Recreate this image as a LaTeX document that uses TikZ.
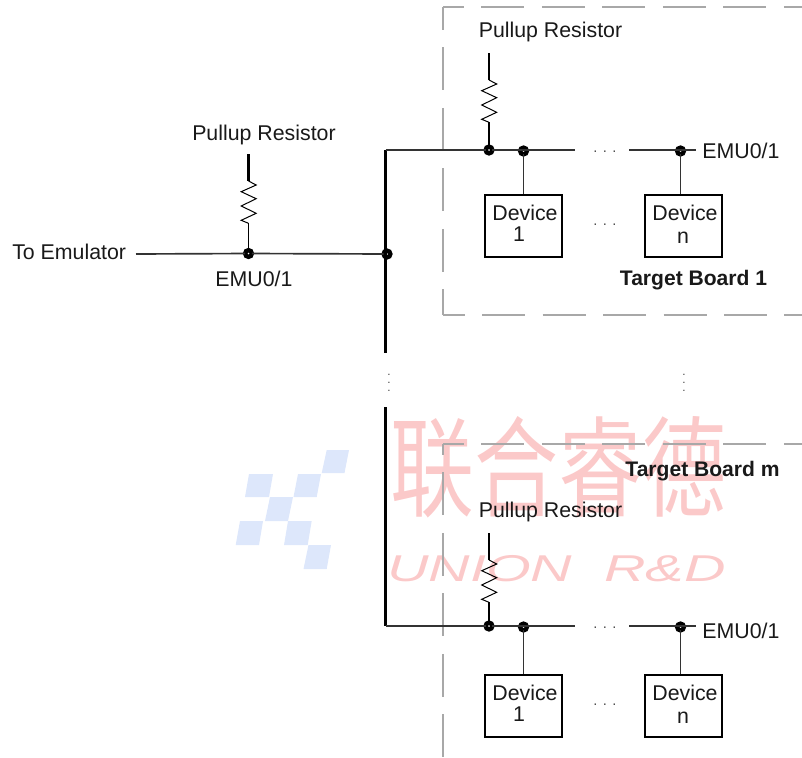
\documentclass[tikz,border=0pt]{standalone}
\usepackage{fontspec}
\setmainfont{Liberation Sans}
\newfontfamily\cjkwm{Noto Sans CJK SC}
\definecolor{wmred}{HTML}{FBC9C9}
\definecolor{wmblue}{HTML}{DDE7FB}
\definecolor{wire}{HTML}{333333}
\definecolor{boardline}{HTML}{A8A8A8}
\tikzset{
  lbl/.style={anchor=base,inner sep=0pt,font=\fontsize{16pt}{18pt}\selectfont,text=black!90},
  boldlbl/.style={lbl,font=\fontsize{15.8pt}{18pt}\selectfont\bfseries},
  dotsh/.style={anchor=center,inner sep=0pt,font=\fontsize{11pt}{12pt}\selectfont,text=black!70},
  dotsv/.style={dotsh,rotate=90,font=\fontsize{9pt}{12pt}\selectfont},
  junction/.style={circle,draw=black,fill=white,line width=3.3pt,minimum size=5pt,inner sep=0pt,outer sep=0pt},
  wireline/.style={draw=wire,line width=1.25pt},
  busline/.style={draw=black,line width=1.9pt},
  stem/.style={draw=black,line width=1.6pt},
  zig/.style={draw=black,line width=0.75pt,line join=miter},
  devbox/.style={draw=black,line width=1.5pt,fill=white,anchor=north west,inner sep=0pt,minimum width=57.7pt,minimum height=46.6pt},
  boardedge/.style={draw=boardline,line width=1.9pt,dash pattern=on 32.25pt off 13.1pt},
  wmcell/.style={fill=wmblue,draw=none},
}
\newcommand{\resistorat}[2]{%
  % #1 prefix; #2 rail junction name; local frame: stem at x=489, top y=53
  \coordinate (#1top) at (489,53);
  \coordinate (#1a) at (489,80);
  \coordinate (#1b) at (489,122.3);
  \draw[stem] (#1top) -- (#1a);
  \draw[zig] (#1a) -- (496.7,84) -- (481.7,90.7) -- (496.7,97.7) -- (481.7,105) -- (496.7,112.3) -- (481.7,119.3) -- (#1b);
  \draw[zig,line width=1pt] (#1b) -- (#2);
}
\newcommand{\targetboard}[2]{%
  % #1 prefix; #2 rail y in board frame
  \node[junction] (#1jr) at (489,#2) {};
  \node[junction] (#1ja) at (523.5,#2+1) {};
  \node[junction] (#1jb) at (680.5,#2+1) {};
  \coordinate (#1railgap) at (575,#2);
  \coordinate (#1railback) at (629,#2);
  \coordinate (#1railend) at (696,#2);
  \node[lbl] (#1pull) at (550.5,37) {Pullup Resistor};
  \node[lbl] (#1emu) at (741,158) {EMU0/1};
  \node[devbox] (#1d1) at (484,194) {};
  \node[devbox] (#1dn) at (644,194) {};
  \node[lbl] (#1d1a) at (525,220) {Device};
  \node[lbl] (#1d1b) at (519,241) {1};
  \node[lbl] (#1dna) at (685,220) {Device};
  \node[lbl] (#1dnb) at (683,243) {n};
  \node[dotsh] (#1dots1) at (605,#2+2) {. . .};
  \node[dotsh] (#1dots2) at (605,225) {. . .};
  \draw[wireline] (#1jr) -- (#1railgap);
  \draw[wireline] (#1railback) -- (#1railend);
  \draw[wireline] (#1ja) -- (#1ja |- #1d1.north);
  \draw[wireline] (#1jb) -- (#1jb |- #1dn.north);
  \resistorat{#1r}{#1jr}
}
\begin{document}
\begin{tikzpicture}[x=0.75pt,y=-0.75pt]
\useasboundingbox (0,0) rectangle (802,757);
% watermark
\fill[wmcell] (326.7,450) -- (349,450) -- (344.5,473) -- (321.7,473) -- cycle;
\fill[wmcell] (249,474) -- (273,474) -- (269,497) -- (245,497) -- cycle;
\fill[wmcell] (298,474) -- (321,474) -- (316.7,497) -- (293.5,497) -- cycle;
\fill[wmcell] (270,497) -- (293,497) -- (288,521) -- (265,521) -- cycle;
\fill[wmcell] (240,521) -- (263,521) -- (259,545) -- (235.7,545) -- cycle;
\fill[wmcell] (288,521) -- (311.7,521) -- (307.7,545) -- (284,545) -- cycle;
\fill[wmcell] (308.5,545) -- (331,545) -- (326.7,569) -- (303.5,569) -- cycle;
\node[inner sep=0pt,text=wmred,yscale=1.3] (wmcn) at (558,467) {\fontsize{63pt}{70pt}\selectfont\cjkwm 联合睿德};
\node[inner sep=0pt,text=wmred,xscale=1.54,anchor=center] (wmen) at (556.5,569) {\fontsize{28pt}{30pt}\selectfont\itshape UNION\ \ R\&D};
% board outlines
\coordinate (b1tl) at (443,7);
\coordinate (b1tr) at (802,7);
\coordinate (b1bl) at (443,315);
\coordinate (b1br) at (802,315);
\draw[boardedge,dash phase=16.5pt] (b1tl) -- (b1tr);
\draw[boardedge,dash phase=15pt] (b1tl) -- (b1bl);
\draw[boardedge,dash phase=16pt] (b1bl) -- (b1br);
\coordinate (b2tl) at (443,444);
\coordinate (b2tr) at (802,444);
\coordinate (b2bl) at (443,757);
\draw[boardedge,dash phase=16.5pt] (b2tl) -- (b2tr);
\draw[boardedge,dash phase=24pt] (b2tl) -- (b2bl);
% emulator side
\node[lbl,anchor=base west] (emu) at (12,259) {To Emulator};
\coordinate (line0) at (136,254);
\node[junction] (jl) at (248.5,253.5) {};
\node[junction] (jbus) at (387,254) {};
\coordinate (bustop) at (385.7,150);
\coordinate (busgap) at (385.7,353);
\coordinate (busback) at (385.7,407);
\coordinate (busbot) at (385.7,626);
\draw[busline] (bustop) -- (busgap);
\draw[busline] (busback) -- (busbot);
\draw[wireline] (line0) -- (jl);
\draw[wireline] (jl) -- (jbus);
\node[lbl] (pulll) at (264,140) {Pullup Resistor};
\node[lbl] (emul) at (254,286) {EMU0/1};
\begin{scope}[shift={(-240.5,101)}]
  \resistorat{lr}{jl}
\end{scope}
% boards
\targetboard{a}{150}
\begin{scope}[shift={(0,480)}]
  \targetboard{c}{146}
\end{scope}
\draw[wireline] (bustop) -- (ajr);
\draw[wireline] (busbot) -- (cjr);
\node[boldlbl] (tb1) at (693.5,285) {Target Board 1};
\node[boldlbl] (tbm) at (702.5,476) {Target Board m};
\node[dotsv] (vd1) at (389,383) {. . .};
\node[dotsv] (vd2) at (684,383) {. . .};
\end{tikzpicture}
\end{document}
